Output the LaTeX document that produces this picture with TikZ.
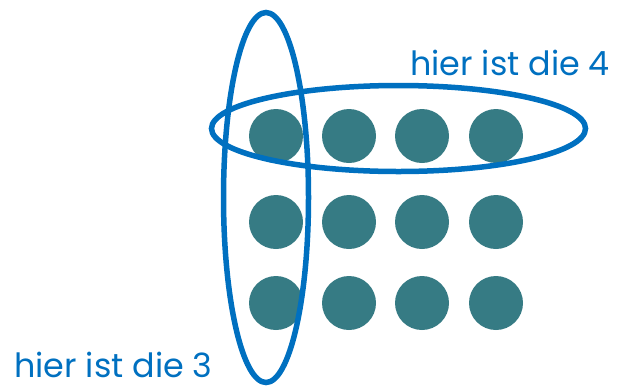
\documentclass[tikz,border=0pt]{standalone}
\usepackage{fontspec}
\setmainfont{Poppins}
\usetikzlibrary{shapes.geometric}
\definecolor{dotteal}{HTML}{367B84}
\definecolor{ringblue}{HTML}{0070C0}
\begin{document}
\begin{tikzpicture}[x=1bp,y=-1bp,
  dot/.style={circle,fill=dotteal,minimum size=54bp,inner sep=0pt},
  ring/.style={draw=ringblue,line width=5.5bp},
  lbl/.style={text=ringblue,font=\fontsize{33.5}{38}\selectfont,inner sep=0pt,anchor=base west}]
\useasboundingbox (0,0) rectangle (621,388);
\foreach \r/\y in {1/136,2/222,3/303}{
  \foreach \c/\x in {1/276,2/349,3/422,4/496}{
    \node[dot] (d\r\c) at (\x,\y) {};
  }
}
\node[ring,ellipse,minimum width=85bp,minimum height=370bp,inner sep=0pt] (v) at (266,197.5) {};
\node[ring,ellipse,minimum width=374bp,minimum height=86bp,inner sep=0pt] (h) at (398.5,128.5) {};
\node[lbl] (t4) at (410,75) {hier ist die 4};
\node[lbl] (t3) at (14,377) {hier ist die 3};
\end{tikzpicture}
\end{document}
